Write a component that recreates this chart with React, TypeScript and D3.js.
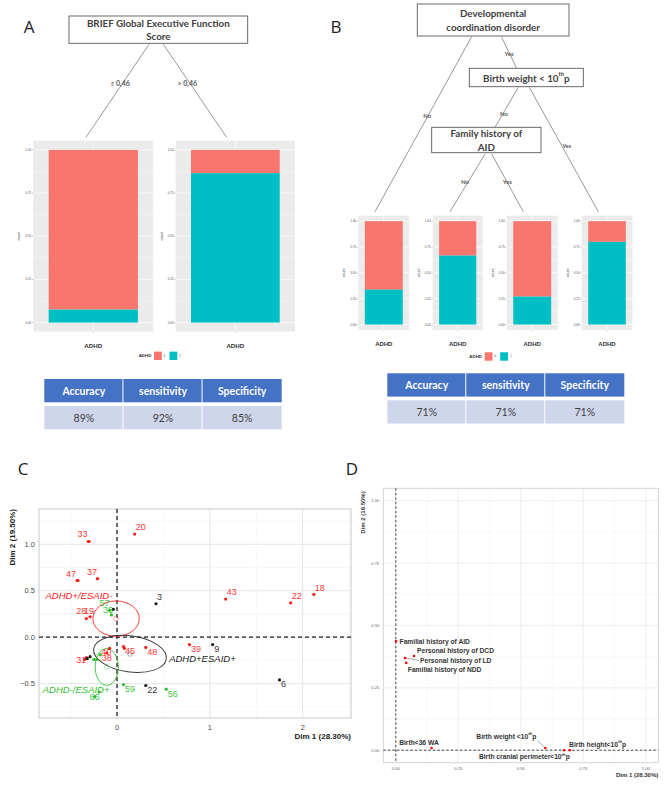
import * as d3 from "d3";

// ── Tokens ────────────────────────────────────────────────────────────────────

const RED = "#F8766D";
const TEAL = "#00BFC4";
const PANEL_BG = "#EBEBEB";
const HEADER = "#4472C4";
const BODY = "#CFD5EA";
const INK = "#404040";
const AXIS = "#4D4D4D";
const CALIBRI = "Lato, 'Open Sans', sans-serif";
const ARIAL = "'Liberation Sans', Arial, sans-serif";

// ── Data ──────────────────────────────────────────────────────────────────────

const BRIEF_SPLITS = ["≤ 0,46", "> 0,46"];
const BRIEF_ADHD_SHARE = [0.075, 0.865];
const DCD_ADHD_SHARE = [0.337, 0.667, 0.27, 0.8];
const SHARE_TICKS = [0, 0.25, 0.5, 0.75, 1];
const ADHD_LEVELS = ["0", "1"];

const METRIC_NAMES = ["Accuracy", "sensitivity", "Specificity"];
const METRICS_A = ["89%", "92%", "85%"];
const METRICS_B = ["71%", "71%", "71%"];

const GROUPS = ["ADHD+/ESAID-", "ADHD+ESAID+", "ADHD-/ESAID+"];
const GROUP_COLORS = ["#FF1A1A", "#1A1A1A", "#2DBE2D"];

// [label, dim1, dim2] — points whose labels are hidden under a neighbour have ""
const IND_ADHD_ONLY: [string, number, number][] = [
  ["33", -0.31, 1.03], ["", -0.3, 1.03], ["20", 0.19, 1.11],
  ["47", -0.43, 0.61], ["", -0.42, 0.61], ["37", -0.21, 0.63],
  ["28", -0.33, 0.2], ["19", -0.29, 0.22], ["45", 0.07, -0.1],
  ["", 0.08, -0.12], ["48", 0.31, -0.11], ["39", 0.78, -0.08],
  ["43", 1.17, 0.41], ["22", 1.87, 0.37], ["18", 2.12, 0.46],
  ["40", -0.08, -0.12], ["38", -0.11, -0.17], ["31", -0.33, -0.22],
  ["", -0.35, -0.24],
];
const IND_BOTH: [string, number, number][] = [
  ["3", 0.42, 0.36], ["", -0.04, 0.3], ["9", 1.03, -0.08],
  ["6", 1.75, -0.46], ["22", 0.31, -0.52], ["", -0.29, -0.21],
  ["", -0.32, -0.23],
];
const IND_ESAID_ONLY: [string, number, number][] = [
  ["57", -0.08, 0.29], ["36", -0.06, 0.24], ["", -0.25, -0.24],
  ["", -0.22, -0.24], ["", -0.18, -0.19], ["59", 0.07, -0.51],
  ["56", 0.53, -0.56], ["66", -0.24, -0.64], ["", -0.19, -0.59],
];
const INDIVIDUALS = [IND_ADHD_ONLY, IND_BOTH, IND_ESAID_ONLY];

// [centre dim1, centre dim2, semi-axis dim1, semi-axis dim2, angle°]
const GROUP_ELLIPSES: [number, number, number, number, number][] = [
  [-0.01, 0.2, 0.25, 0.19, 0],
  [0.14, -0.18, 0.395, 0.194, -8],
  [-0.11, -0.32, 0.126, 0.2, 0],
];

const C_X_TICKS = [0, 1, 2];
const C_Y_TICKS = [-0.5, 0, 0.5, 1];

const VAR_NAMES = [
  "Familial history of AID",
  "Personal history of DCD",
  "Personal history of LD",
  "Familial history of NDD",
  "Birth<36 WA",
  "Birth weight <10thp",
  "Birth cranial perimeter<10thp",
  "Birth height<10thp",
];
const VAR_DIM1 = [0.001, 0.073, 0.037, 0.042, 0.143, 0.598, 0.673, 0.696];
const VAR_DIM2 = [0.437, 0.378, 0.37, 0.35, 0.009, 0.009, 0.0, 0.0];
const D_TICKS = [0, 0.25, 0.5, 0.75, 1];

// ── Layout helpers ────────────────────────────────────────────────────────────

// label nudges for panel C: [dx, dy] from the point to the label start / baseline
const C_NUDGE: Record<string, [number, number]> = {
  "33": [-10.6, -4.2], "47": [-11, -3.2], "37": [-10.4, -3.8], "28": [-10, -4.5],
  "19": [-6, -2.8], "57": [-10, -4.5], "36": [-8.5, -2], "40": [-8.4, 6.7],
  "38": [-5, 7.9], "31": [-10, 5.6], "66": [-5, 3.2],
};

// group-name labels in panel C (data coords, text centre)
const C_GROUP_LABEL: [number, number][] = [
  [-0.41, 0.45], [0.92, -0.23], [-0.44, -0.56],
];

// panel D label offsets: [dx, dy, anchor]
const D_LABEL: [number, number, "start" | "end"][] = [
  [3.5, 2.3, "start"], [3, -2.6, "start"], [15, 5, "start"], [1.5, 9, "start"],
  [-32.4, -3.2, "start"], [-9, -9.2, "end"], [5.7, 8.8, "end"], [-0.7, -3.6, "start"],
];

function withSup(label: string, supSize: number) {
  const parts = label.split("10th");
  if (parts.length < 2) return label;
  return (
    <>
      {parts[0] + "10"}
      <tspan dy={-supSize * 0.8} fontSize={supSize}>th</tspan>
      <tspan dy={supSize * 0.8}>{parts[1]}</tspan>
    </>
  );
}

function GapLine({ x1, y1, x2, y2, t0, t1 }: {
  x1: number; y1: number; x2: number; y2: number; t0: number; t1: number;
}) {
  const lerp = d3.interpolateArray([x1, y1], [x2, y2]);
  const a = lerp(t0), b = lerp(t1);
  return (
    <g stroke="#8C8C8C" strokeWidth={0.9}>
      <line x1={x1} y1={y1} x2={a[0]} y2={a[1]} />
      <line x1={b[0]} y1={b[1]} x2={x2} y2={y2} />
    </g>
  );
}

function TreeBox({ x, y, w, h, lines, size }: {
  x: number; y: number; w: number; h: number; lines: React.ReactNode[]; size: number;
}) {
  const cy = y + h / 2;
  const lh = size * 1.35;
  return (
    <g>
      <rect x={x} y={y} width={w} height={h} fill="#fff" stroke="#595959" strokeWidth={0.9} />
      {lines.map((l, i) => (
        <text key={i} x={x + w / 2} y={cy + (i - (lines.length - 1) / 2) * lh}
          textAnchor="middle" dominantBaseline="central"
          fontFamily={CALIBRI} fontWeight={700} fontSize={size} fill={INK}>
          {l}
        </text>
      ))}
    </g>
  );
}

function BranchLabel({ x, y, text, size = 6 }: { x: number; y: number; text: string; size?: number }) {
  return (
    <text x={x} y={y} textAnchor="middle" dominantBaseline="central"
      fontFamily={CALIBRI} fontWeight={700} fontSize={size} fill="#595959">
      {text}
    </text>
  );
}

// ggplot-like stacked proportion panel
function SharePanel({ left, right, top, bottom, share, titleSize }: {
  left: number; right: number; top: number; bottom: number; share: number; titleSize: number;
}) {
  const x = d3.scaleBand().domain(["ADHD"]).range([left, right]).padding(0.147);
  const y = d3.scaleLinear().domain([-0.053, 1.053]).range([bottom, top]);
  const minor = d3.pairs(SHARE_TICKS).map(([a, b]) => (a + b) / 2);
  const bx = x("ADHD")!;
  const cx = bx + x.bandwidth() / 2;
  return (
    <g>
      <rect x={left} y={top} width={right - left} height={bottom - top} fill={PANEL_BG} />
      {minor.map(t => (
        <line key={"m" + t} x1={left} x2={right} y1={y(t)} y2={y(t)} stroke="#fff" strokeWidth={0.35} />
      ))}
      {SHARE_TICKS.map(t => (
        <line key={t} x1={left} x2={right} y1={y(t)} y2={y(t)} stroke="#fff" strokeWidth={0.7} />
      ))}
      <line x1={cx} x2={cx} y1={top} y2={bottom} stroke="#fff" strokeWidth={0.7} />
      <rect x={bx} y={y(1)} width={x.bandwidth()} height={y(share) - y(1)} fill={RED} />
      <rect x={bx} y={y(share)} width={x.bandwidth()} height={y(0) - y(share)} fill={TEAL} />
      {SHARE_TICKS.map(t => (
        <g key={"t" + t}>
          <line x1={left - 1.2} x2={left} y1={y(t)} y2={y(t)} stroke={AXIS} strokeWidth={0.3} />
          <text x={left - 2} y={y(t)} textAnchor="end" dominantBaseline="central"
            fontFamily={ARIAL} fontSize={3} fill={AXIS}>{t.toFixed(2)}</text>
        </g>
      ))}
      <line x1={cx} x2={cx} y1={bottom} y2={bottom + 1.2} stroke={AXIS} strokeWidth={0.3} />
      <text transform={`translate(${left - 14},${(top + bottom) / 2}) rotate(-90)`}
        textAnchor="middle" dominantBaseline="central" fontFamily={ARIAL} fontSize={3.6} fill="#222">count</text>
      <text x={cx} y={bottom + 13.5} textAnchor="middle" dominantBaseline="central"
        fontFamily={ARIAL} fontWeight={700} fontSize={titleSize} fill="#333">ADHD</text>
    </g>
  );
}

function ShareLegend({ x, y }: { x: number; y: number }) {
  const colors = d3.scaleOrdinal<string, string>().domain(ADHD_LEVELS).range([RED, TEAL]);
  return (
    <g>
      <text x={x} y={y} textAnchor="middle" dominantBaseline="central"
        fontFamily={ARIAL} fontWeight={700} fontSize={4.4} fill="#333">ADHD</text>
      {ADHD_LEVELS.map((lvl, i) => (
        <g key={lvl} transform={`translate(${x + 9 + i * 15.5},${y - 4.2})`}>
          <rect width={7.8} height={8.4} fill={colors(lvl)} />
          <text x={10.5} y={4.2} textAnchor="middle" dominantBaseline="central"
            fontFamily={ARIAL} fontSize={2.8} fill="#333">{lvl}</text>
        </g>
      ))}
    </g>
  );
}

function MetricsTable({ left, right, top, values }: {
  left: number; right: number; top: number; values: string[];
}) {
  const x = d3.scaleBand().domain(METRIC_NAMES).range([left, right]);
  const hh = 23.3, gap = 3.7, bh = 23.3;
  return (
    <g>
      {METRIC_NAMES.map((name, i) => {
        const cx = x(name)!;
        const w = x.bandwidth() - (i < METRIC_NAMES.length - 1 ? 1 : 0);
        return (
          <g key={name}>
            <rect x={cx} y={top} width={w} height={hh} fill={HEADER} />
            <rect x={cx} y={top + hh + gap} width={w} height={bh} fill={BODY} />
            <text x={cx + x.bandwidth() / 2} y={top + hh / 2} textAnchor="middle" dominantBaseline="central"
              fontFamily={CALIBRI} fontWeight={700} fontSize={10.5} fill="#fff">{name}</text>
            <text x={cx + x.bandwidth() / 2} y={top + hh + gap + bh / 2} textAnchor="middle" dominantBaseline="central"
              fontFamily={CALIBRI} fontSize={10.5} fill={INK}>{values[i]}</text>
          </g>
        );
      })}
    </g>
  );
}

function PanelLetter({ x, y, letter }: { x: number; y: number; letter: string }) {
  return (
    <text x={x} y={y} textAnchor="middle" dominantBaseline="central"
      fontFamily="'Open Sans', sans-serif" fontSize={17} fill="#222">{letter}</text>
  );
}

// ── Panel A ───────────────────────────────────────────────────────────────────

function PanelA() {
  return (
    <g>
      <PanelLetter x={29} y={26} letter="A" />
      <TreeBox x={69} y={16} w={178.7} h={27.3} size={9.8} lines={["BRIEF Global Executive Function", "Score"]} />
      <GapLine x1={149} y1={44.3} x2={86} y2={137.3} t0={0.295} t1={0.538} />
      <GapLine x1={163.3} y1={44.3} x2={226.7} y2={137.3} t0={0.295} t1={0.538} />
      <BranchLabel x={120} y={83.3} text={BRIEF_SPLITS[0]} size={7} />
      <BranchLabel x={187.3} y={82.7} text={BRIEF_SPLITS[1]} size={7} />
      <SharePanel left={33.3} right={153.3} top={140.7} bottom={331.7} share={BRIEF_ADHD_SHARE[0]} titleSize={6.2} />
      <SharePanel left={175.7} right={295} top={140.7} bottom={331.7} share={BRIEF_ADHD_SHARE[1]} titleSize={6.2} />
      <ShareLegend x={145} y={355.8} />
      <MetricsTable left={44.3} right={281.7} top={379} values={METRICS_A} />
    </g>
  );
}

// ── Panel B ───────────────────────────────────────────────────────────────────

function PanelB() {
  const panels = [
    [358.3, 409.3], [432.7, 482.7], [506.7, 557.7], [581.7, 632.3],
  ];
  return (
    <g>
      <PanelLetter x={336} y={26} letter="B" />
      <GapLine x1={471.7} y1={36.7} x2={375} y2={211.7} t0={0.396} t1={0.499} />
      <GapLine x1={501.7} y1={37.3} x2={516.7} y2={68.3} t0={0.17} t1={0.76} />
      <GapLine x1={518.3} y1={87.3} x2={495} y2={127.3} t0={0.36} t1={0.82} />
      <GapLine x1={529.3} y1={87.3} x2={598.3} y2={211.7} t0={0.383} t1={0.558} />
      <GapLine x1={485} y1={154} x2={450} y2={211.7} t0={0.277} t1={0.653} />
      <GapLine x1={491.7} y1={154} x2={523.3} y2={211.7} t0={0.277} t1={0.653} />
      <TreeBox x={417.3} y={4} w={151.7} h={32} size={9.8} lines={["Developmental", "coordination  disorder"]} />
      <TreeBox x={469.3} y={68.3} w={114} h={18.4} size={9.8} lines={[withSup("Birth weight < 10thp", 5.8)]} />
      <TreeBox x={431.7} y={127.3} w={109.3} h={25.4} size={9.8} lines={["Family history of", "AID"]} />
      <BranchLabel x={427.3} y={115.7} text="No" />
      <BranchLabel x={509} y={53.3} text="Yes" />
      <BranchLabel x={504} y={113.3} text="No" />
      <BranchLabel x={566.7} y={145} text="Yes" />
      <BranchLabel x={465} y={181.7} text="No" />
      <BranchLabel x={507.3} y={181.7} text="Yes" />
      {panels.map(([l, r], i) => (
        <SharePanel key={i} left={l} right={r} top={215.7} bottom={330} share={DCD_ADHD_SHARE[i]} titleSize={6} />
      ))}
      <ShareLegend x={475.7} y={356.5} />
      <MetricsTable left={387.3} right={624.3} top={373.3} values={METRICS_B} />
    </g>
  );
}

// ── Panel C: individuals map ──────────────────────────────────────────────────

function PanelC() {
  const L = 39, R = 351, T = 509, B = 718;
  const x = d3.scaleLinear().domain([-0.84, 2.52]).range([L, R]);
  const y = d3.scaleLinear().domain([-0.87, 1.38]).range([B, T]);
  const xMinor = d3.pairs([-1, ...C_X_TICKS, 3]).map(([a, b]) => (a + b) / 2).filter(v => v > -0.84 && v < 2.52);
  const yMinor = d3.pairs([-1, ...C_Y_TICKS, 1.5]).map(([a, b]) => (a + b) / 2).filter(v => v > -0.87 && v < 1.38);
  return (
    <g>
      <PanelLetter x={23} y={468} letter="C" />
      <rect x={L} y={T} width={R - L} height={B - T} fill="#fff" />
      {xMinor.map(v => <line key={"xm" + v} x1={x(v)} x2={x(v)} y1={T} y2={B} stroke="#F2F2F2" strokeWidth={0.6} />)}
      {yMinor.map(v => <line key={"ym" + v} x1={L} x2={R} y1={y(v)} y2={y(v)} stroke="#F2F2F2" strokeWidth={0.6} />)}
      {C_X_TICKS.map(v => <line key={"x" + v} x1={x(v)} x2={x(v)} y1={T} y2={B} stroke="#E3E3E3" strokeWidth={0.9} />)}
      {C_Y_TICKS.map(v => <line key={"y" + v} x1={L} x2={R} y1={y(v)} y2={y(v)} stroke="#E3E3E3" strokeWidth={0.9} />)}
      <rect x={L} y={T} width={R - L} height={B - T} fill="none" stroke="#C8C8C8" strokeWidth={1} />
      <line x1={x(0)} x2={x(0)} y1={T} y2={B} stroke="#222" strokeWidth={1.3} strokeDasharray="4 3" />
      <line x1={L} x2={R} y1={y(0)} y2={y(0)} stroke="#222" strokeWidth={1.3} strokeDasharray="4 3" />

      {GROUP_ELLIPSES.map(([cx, cy, ax, ay, ang], g) => (
        <g key={"e" + g}>
          <ellipse cx={x(cx)} cy={y(cy)} rx={x(cx + ax) - x(cx)} ry={y(cy) - y(cy + ay)}
            transform={`rotate(${-ang} ${x(cx)} ${y(cy)})`}
            fill="none" stroke={GROUP_COLORS[g]} strokeWidth={1} opacity={0.85} />
          <circle cx={x(cx)} cy={y(cy)} r={2.4} fill="none" stroke={GROUP_COLORS[g]} strokeWidth={0.8} opacity={0.45} />
        </g>
      ))}

      {INDIVIDUALS.map((list, g) => list.map(([id, d1, d2], i) => {
        const px = x(d1), py = y(d2);
        const [dx, dy] = C_NUDGE[id] ?? (d2 > 0 ? [1, -3.8] : [1.5, 7.5]);
        return (
          <g key={g + "-" + i}>
            <circle cx={px} cy={py} r={1.6} fill={GROUP_COLORS[g]} />
            {id && (
              <text x={px + dx} y={py + dy} fontFamily={ARIAL} fontSize={9}
                fill={GROUP_COLORS[g]} opacity={0.9}>{id}</text>
            )}
          </g>
        );
      }))}

      {GROUPS.map((name, g) => (
        <text key={name} x={x(C_GROUP_LABEL[g][0])} y={y(C_GROUP_LABEL[g][1])}
          textAnchor="middle" dominantBaseline="central" fontFamily={ARIAL}
          fontStyle="italic" fontSize={9.5} fill={GROUP_COLORS[g]}>{name}</text>
      ))}

      {C_Y_TICKS.map(v => (
        <text key={"yl" + v} x={L - 4} y={y(v)} textAnchor="end" dominantBaseline="central"
          fontFamily={ARIAL} fontSize={7.5} fill={AXIS}>{v === 0 ? "0.0" : d3.format(".1f")(v).replace("-", "−")}</text>
      ))}
      {C_X_TICKS.map(v => (
        <text key={"xl" + v} x={x(v)} y={B + 9} textAnchor="middle" dominantBaseline="central"
          fontFamily={ARIAL} fontSize={7.5} fill={AXIS}>{v}</text>
      ))}
      <text x={R} y={B + 18.5} textAnchor="end" dominantBaseline="central"
        fontFamily={ARIAL} fontWeight={700} fontSize={8} fill="#222">Dim 1 (28.30%)</text>
      <text transform={`translate(12,${T}) rotate(-90)`} textAnchor="end" dominantBaseline="central"
        fontFamily={ARIAL} fontWeight={700} fontSize={8} fill="#222">Dim 2 (19.50%)</text>
    </g>
  );
}

// ── Panel D: variables map ────────────────────────────────────────────────────

function PanelD() {
  const L = 383.3, R = 658.3, T = 488.3, B = 762.7;
  const x = d3.scaleLinear().domain([-0.05, 1.05]).range([L, R]);
  const y = d3.scaleLinear().domain([-0.05, 1.05]).range([B, T]);
  const minor = d3.pairs(D_TICKS).map(([a, b]) => (a + b) / 2);
  return (
    <g>
      <PanelLetter x={352} y={468} letter="D" />
      {minor.map(v => (
        <g key={"m" + v}>
          <line x1={x(v)} x2={x(v)} y1={T} y2={B} stroke="#F4F4F4" strokeWidth={0.6} />
          <line x1={L} x2={R} y1={y(v)} y2={y(v)} stroke="#F4F4F4" strokeWidth={0.6} />
        </g>
      ))}
      {D_TICKS.map(v => (
        <g key={"g" + v}>
          <line x1={x(v)} x2={x(v)} y1={T} y2={B} stroke="#E8E8E8" strokeWidth={0.7} />
          <line x1={L} x2={R} y1={y(v)} y2={y(v)} stroke="#E8E8E8" strokeWidth={0.7} />
        </g>
      ))}
      <rect x={L} y={T} width={R - L} height={B - T} fill="none" stroke="#CFCFCF" strokeWidth={0.9} />
      <line x1={x(0)} x2={x(0)} y1={T} y2={B} stroke="#444" strokeWidth={1} strokeDasharray="2.5 2" />
      <line x1={L} x2={R} y1={y(0)} y2={y(0)} stroke="#444" strokeWidth={1} strokeDasharray="2.5 2" />

      {VAR_NAMES.map((name, i) => {
        const px = x(VAR_DIM1[i]), py = y(VAR_DIM2[i]);
        const [dx, dy, anchor] = D_LABEL[i];
        return (
          <g key={name}>
            {i === 2 && <line x1={px} y1={py} x2={px + dx - 1} y2={py + dy - 2.4} stroke="#555" strokeWidth={0.5} />}
            {i === 5 && <line x1={px} y1={py} x2={px + dx + 1} y2={py + dy + 1.6} stroke="#555" strokeWidth={0.5} />}
            <circle cx={px} cy={py} r={1.3} fill="#FF0000" />
            <text x={px + dx} y={py + dy} textAnchor={anchor} fontFamily={ARIAL}
              fontWeight={700} fontSize={6.7} fill="#333">{withSup(name, 4.3)}</text>
          </g>
        );
      })}

      {D_TICKS.map(v => (
        <g key={"l" + v}>
          <text x={x(v)} y={B + 6} textAnchor="middle" dominantBaseline="central"
            fontFamily={ARIAL} fontSize={4.2} fill="#666">{v.toFixed(2)}</text>
          <text x={L - 4} y={y(v)} textAnchor="end" dominantBaseline="central"
            fontFamily={ARIAL} fontSize={4.2} fill="#666">{v.toFixed(2)}</text>
        </g>
      ))}
      <text x={R} y={B + 12.5} textAnchor="end" dominantBaseline="central"
        fontFamily={ARIAL} fontWeight={700} fontSize={6} fill="#333">Dim 1 (28.30%)</text>
      <text transform={`translate(363,${T + 3}) rotate(-90)`} textAnchor="end" dominantBaseline="central"
        fontFamily={ARIAL} fontWeight={700} fontSize={6} fill="#333">Dim 2 (19.50%)</text>
    </g>
  );
}

// ── Main export ───────────────────────────────────────────────────────────────

export default function App() {
  return (
    <div style={{ position: "absolute", left: 0, top: 0 }}>
      <svg width={669} height={790} viewBox="0 0 669 790" style={{ display: "block", background: "#fff" }}>
        <PanelA />
        <PanelB />
        <PanelC />
        <PanelD />
      </svg>
    </div>
  );
}
